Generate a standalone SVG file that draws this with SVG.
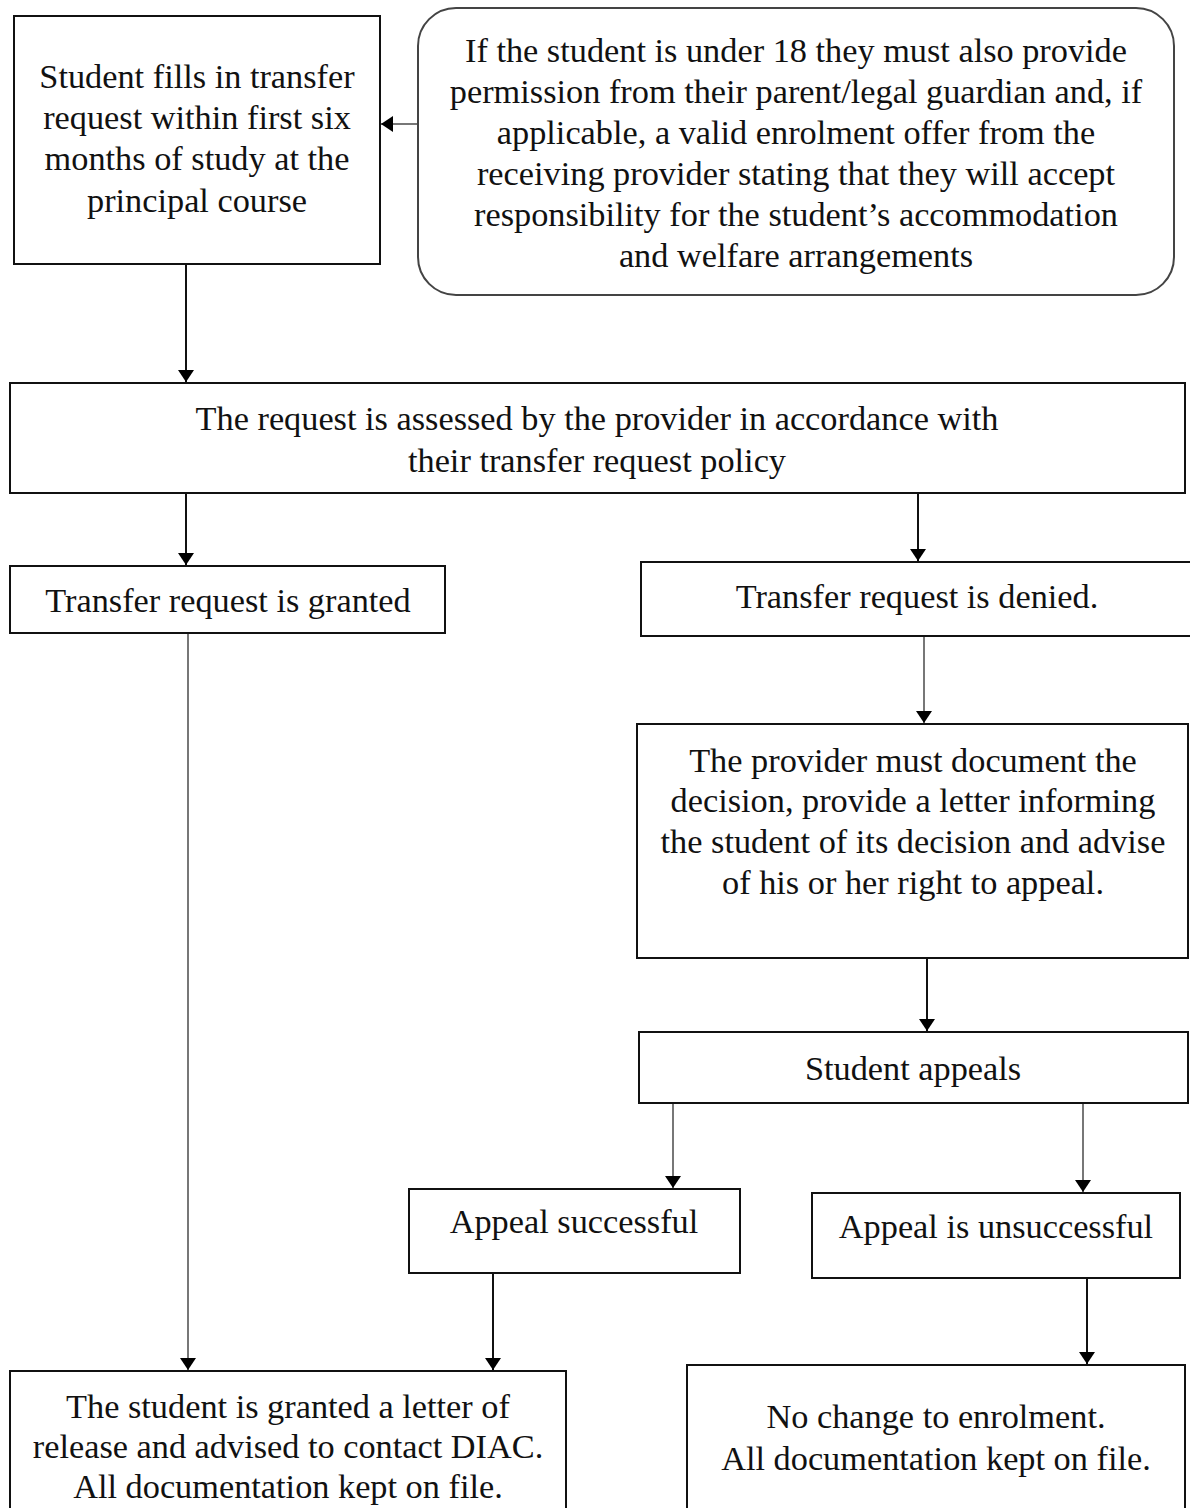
<svg xmlns="http://www.w3.org/2000/svg" width="1190" height="1508" viewBox="0 0 1190 1508">
<defs>
<marker id="ah" viewBox="0 0 12 16" refX="12" refY="8" markerWidth="12" markerHeight="16" markerUnits="userSpaceOnUse" orient="auto">
<path d="M0,0 L12,8 L0,16 z" fill="#000"/>
</marker>
</defs>
<style>
.box{fill:#fff;stroke:#111;stroke-width:2}
.rbox{fill:#fff;stroke:#444;stroke-width:2}
.t{font-family:"Liberation Serif","Times New Roman",serif;font-size:34.3px;fill:#111;text-anchor:middle}
.c{stroke:#111;stroke-width:2;fill:none;marker-end:url(#ah)}
.g{stroke:#777;stroke-width:2;fill:none;marker-end:url(#ah)}
</style>
<rect width="1190" height="1508" fill="#fff"/>
<g id="connectors">
<line class="g" x1="418" y1="124" x2="381" y2="124"/>
<line class="c" x1="186" y1="264" x2="186" y2="382"/>
<line class="c" x1="186" y1="493" x2="186" y2="565"/>
<line class="c" x1="918" y1="493" x2="918" y2="561"/>
<line class="g" x1="188" y1="633" x2="188" y2="1370"/>
<line class="g" x1="924" y1="636" x2="924" y2="723"/>
<line class="c" x1="927" y1="958" x2="927" y2="1031"/>
<line class="g" x1="673" y1="1103" x2="673" y2="1188"/>
<line class="g" x1="1083" y1="1103" x2="1083" y2="1192"/>
<line class="c" x1="493" y1="1273" x2="493" y2="1370"/>
<line class="c" x1="1087" y1="1278" x2="1087" y2="1364"/>
</g>
<g id="n1">
<rect class="box" x="14" y="16" width="366" height="248"/>
<text class="t" x="197" y="88">Student fills in transfer</text>
<text class="t" x="197" y="129">request within first six</text>
<text class="t" x="197" y="170">months of study at the</text>
<text class="t" x="197" y="212">principal course</text>
</g>
<g id="n2">
<rect class="rbox" x="418" y="8" width="756" height="287" rx="38" ry="38"/>
<text class="t" x="796" y="62">If the student is under 18 they must also provide</text>
<text class="t" x="796" y="103">permission from their parent/legal guardian and, if</text>
<text class="t" x="796" y="144">applicable, a valid enrolment offer from the</text>
<text class="t" x="796" y="185">receiving provider stating that they will accept</text>
<text class="t" x="796" y="226">responsibility for the student’s accommodation</text>
<text class="t" x="796" y="267">and welfare arrangements</text>
</g>
<g id="n3">
<rect class="box" x="10" y="383" width="1175" height="110"/>
<text class="t" x="597" y="430">The request is assessed by the provider in accordance with</text>
<text class="t" x="597" y="472">their transfer request policy</text>
</g>
<g id="n4">
<rect class="box" x="10" y="566" width="435" height="67"/>
<text class="t" x="228" y="612">Transfer request is granted</text>
</g>
<g id="n5">
<rect class="box" x="641" y="562" width="555" height="74"/>
<text class="t" x="917" y="608">Transfer request is denied.</text>
</g>
<g id="n6">
<rect class="box" x="637" y="724" width="551" height="234"/>
<text class="t" x="913" y="772">The provider must document the</text>
<text class="t" x="913" y="812">decision, provide a letter informing</text>
<text class="t" x="913" y="853">the student of its decision and advise</text>
<text class="t" x="913" y="894">of his or her right to appeal.</text>
</g>
<g id="n7">
<rect class="box" x="639" y="1032" width="549" height="71"/>
<text class="t" x="913" y="1080">Student appeals</text>
</g>
<g id="n8">
<rect class="box" x="409" y="1189" width="331" height="84"/>
<text class="t" x="574" y="1233">Appeal successful</text>
</g>
<g id="n9">
<rect class="box" x="812" y="1193" width="368" height="85"/>
<text class="t" x="996" y="1238">Appeal is unsuccessful</text>
</g>
<g id="n10">
<rect class="box" x="10" y="1371" width="556" height="150"/>
<text class="t" x="288" y="1418">The student is granted a letter of</text>
<text class="t" x="288" y="1458">release and advised to contact DIAC.</text>
<text class="t" x="288" y="1498">All documentation kept on file.</text>
</g>
<g id="n11">
<rect class="box" x="687" y="1365" width="498" height="160"/>
<text class="t" x="936" y="1428">No change to enrolment.</text>
<text class="t" x="936" y="1470">All documentation kept on file.</text>
</g>
</svg>
